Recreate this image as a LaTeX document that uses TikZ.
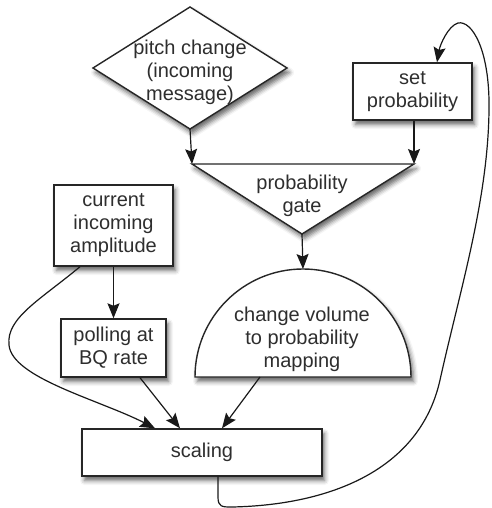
\documentclass[tikz,border=0pt]{standalone}
\usepackage{fontspec}
\setmainfont{Liberation Sans}
\usetikzlibrary{arrows.meta,shadows.blur}
\tikzset{
 shp/.style={draw=black!85, line width=1.4pt, fill=white, blur shadow={shadow xshift=2.5pt,shadow yshift=-4.5pt,shadow blur radius=4.5pt,shadow opacity=60}},
 lbl/.style={align=center, font=\fontsize{20}{23}\selectfont, text=black!82, inner sep=0pt},
 box/.style={shp, lbl, rectangle},
 conn/.style={draw=black!90, line width=1.2pt, -{Stealth[length=15pt,width=12pt,inset=2.5pt]}},
}
\begin{document}
\begin{tikzpicture}[x=1pt,y=1pt]
\useasboundingbox (0,0) rectangle (491,-508);
% diamond
\path[shp] (190,-7) -- (287,-68) -- (190,-129) -- (93,-68) -- cycle;
\coordinate (pitchS) at (190,-129);
\node[lbl] (pitch) at (190,-72) {pitch change\\(incoming\\message)};
% set probability
\node[box, minimum width=119pt, minimum height=57pt] (setp) at (412.5,-91.5) {set\\probability};
% triangle
\path[shp] (192,-164) -- (414,-164) -- (302,-234) -- cycle;
\coordinate (triL) at (192,-164);
\coordinate (triR) at (414,-164);
\coordinate (triA) at (302,-234);
\node[lbl] (gate) at (302,-196) {probability\\gate};
% amplitude
\node[box, minimum width=119pt, minimum height=81pt] (amp) at (113.5,-225.5) {current\\incoming\\amplitude};
% polling
\node[box, minimum width=105pt, minimum height=58pt] (poll) at (113.5,-348) {polling at\\BQ rate};
% semicircle
\path[shp] (195,-377) arc[start angle=180,end angle=0,radius=108] -- cycle;
\coordinate (semiTop) at (303,-269);
\coordinate (semiOut) at (260,-377);
\node[lbl] (map) at (302,-339) {change volume\\to probability\\mapping};
% scaling
\node[box, minimum width=240pt, minimum height=47pt] (scal) at (202,-452.5) {scaling};
% connectors
\draw[conn] (pitchS) -- (triL);
\draw[conn] (setp.south -| triR) -- (triR);
\draw[conn] (triA) -- (semiTop);
\draw[conn] (amp.south) -- (poll.north);
\draw[conn] ([xshift=26.5pt]poll.south) -- ([xshift=-22pt]scal.north);
\draw[conn] (semiOut) -- ([xshift=20pt]scal.north);
\draw[conn] ([xshift=-33.5pt]amp.south) .. controls (40,-300) and (6,-318) .. (9,-345)
  .. controls (12,-378) and (100,-400) .. ([xshift=-47pt]scal.north);
\draw[conn] ([xshift=16pt]scal.south) -- (218,-497) .. controls (218,-507) and (222,-507) .. (232,-507)
  .. controls (330,-505) and (420,-470) .. (440,-380)
  .. controls (460,-290) and (488,-200) .. (489,-110)
  .. controls (490,-50) and (472,-20) .. (458,-23)
  .. controls (448,-26) and (440,-45) .. ([xshift=24.5pt]setp.north);
\end{tikzpicture}
\end{document}
